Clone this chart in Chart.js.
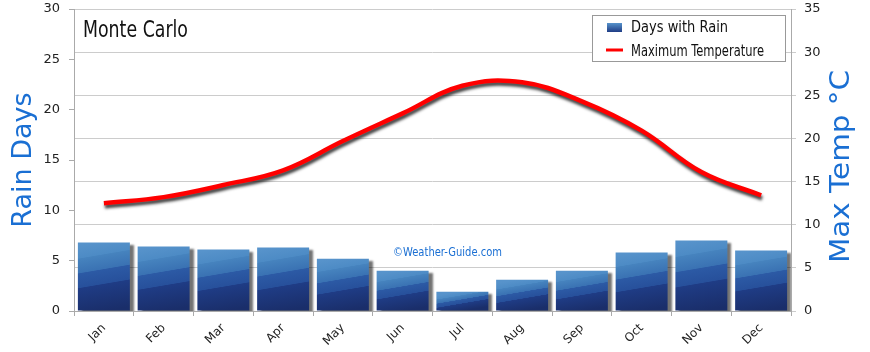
<!DOCTYPE html>
<html>
<head>
<meta charset="utf-8">
<script src="https://cdn.jsdelivr.net/npm/chart.js@4.4.1/dist/chart.umd.min.js"></script>
<style>
  html, body { margin: 0; padding: 0; background: #fff; }
  #wrap { width: 870px; height: 352px; position: relative; }
</style>
</head>
<body>
<div id="wrap"><canvas id="chart"></canvas></div>
<script>
const months = ["Jan", "Feb", "Mar", "Apr", "May", "Jun", "Jul", "Aug", "Sep", "Oct", "Nov", "Dec"];
const rainDays = [6.8, 6.4, 6.1, 6.3, 5.2, 4.0, 1.9, 3.1, 4.0, 5.8, 7.0, 6.0];
const maxTemp = [12.5, 13.2, 14.6, 16.3, 19.7, 22.9, 26.1, 26.5, 24.3, 20.9, 16.1, 13.4];
const rainTicks = [0, 5, 10, 15, 20, 25, 30];
const tempTicks = [0, 5, 10, 15, 20, 25, 30, 35];

const cityName = "Monte Carlo";
const watermark = "\u00A9Weather-Guide.com";
const leftTitle = "Rain Days";
const rightTitle = "Max Temp \u00B0C";

const BLUE_TEXT = "#1a6fd3";
const FONT = '"DejaVu Sans", sans-serif';

// draw text squeezed (or stretched) sideways to a given width
function fitText(ctx, text, x, y, width) {
  const w = ctx.measureText(text).width;
  ctx.save();
  ctx.translate(x, y);
  ctx.scale(width / w, 1);
  ctx.fillText(text, 0, 0);
  ctx.restore();
}

// layered blue fill, slanted like the original bars
function barFill(context) {
  const chart = context.chart;
  const { ctx, chartArea, scales } = chart;
  if (!chartArea || !scales.y) return "#2c5aa5";
  const top = scales.y.getPixelForValue(context.raw);
  const bottom = scales.y.getPixelForValue(0);
  const cx = scales.x.getPixelForValue(context.dataIndex);
  const h = Math.max(bottom - top, 1);
  const g = ctx.createLinearGradient(cx, bottom, cx - 0.17 * h, top);
  g.addColorStop(0, "#1a2e6a");
  g.addColorStop(0.38, "#1f3c85");
  g.addColorStop(0.39, "#27509b");
  g.addColorStop(0.59, "#2c5aa5");
  g.addColorStop(0.60, "#3a72b3");
  g.addColorStop(0.80, "#4683be");
  g.addColorStop(0.81, "#4d8bc5");
  g.addColorStop(1, "#5793cb");
  return g;
}

const shadowPlugin = {
  id: "shadows",
  beforeDatasetDraw(chart, args) {
    const ctx = chart.ctx;
    ctx.save();
    if (args.meta.type === "bar") {
      ctx.shadowColor = "rgba(0,0,0,0.55)";
      ctx.shadowOffsetX = 4;
      ctx.shadowOffsetY = 2;
      ctx.shadowBlur = 2;
    } else {
      ctx.shadowColor = "rgba(0,0,0,0.75)";
      ctx.shadowOffsetX = 1;
      ctx.shadowOffsetY = 3;
      ctx.shadowBlur = 3;
    }
  },
  afterDatasetDraw(chart) {
    chart.ctx.restore();
  }
};

const decorPlugin = {
  id: "decor",
  beforeDatasetsDraw(chart) {
    const ctx = chart.ctx;
    ctx.save();
    ctx.font = "13px " + FONT;
    ctx.fillStyle = BLUE_TEXT;
    ctx.textBaseline = "alphabetic";
    fitText(ctx, watermark, 393, 256, 109);
    ctx.restore();
  },
  afterDraw(chart) {
    const ctx = chart.ctx;
    ctx.save();

    // city name
    ctx.font = "23px " + FONT;
    ctx.fillStyle = "#111";
    ctx.textBaseline = "alphabetic";
    fitText(ctx, cityName, 83, 37, 105);

    // right axis title, reading bottom to top
    ctx.save();
    ctx.translate(849, 263);
    ctx.rotate(-Math.PI / 2);
    ctx.font = "27px " + FONT;
    ctx.fillStyle = BLUE_TEXT;
    ctx.textBaseline = "alphabetic";
    fitText(ctx, rightTitle, 0, 0, 193);
    ctx.restore();

    // legend box
    const ds = chart.data.datasets;
    ctx.fillStyle = "#fff";
    ctx.fillRect(592, 15, 193, 46);
    ctx.strokeStyle = "#999";
    ctx.lineWidth = 1;
    ctx.strokeRect(592.5, 15.5, 193, 46);

    const g = ctx.createLinearGradient(0, 23, 0, 32);
    g.addColorStop(0, "#5793cb");
    g.addColorStop(1, "#1f3c85");
    ctx.fillStyle = g;
    ctx.fillRect(607, 23, 15, 9);

    ctx.strokeStyle = "#ff0000";
    ctx.lineWidth = 3;
    ctx.beginPath();
    ctx.moveTo(606, 50);
    ctx.lineTo(623, 50);
    ctx.stroke();

    ctx.font = "15px " + FONT;
    ctx.fillStyle = "#111";
    ctx.textBaseline = "alphabetic";
    fitText(ctx, ds[0].label, 631, 32, 97);
    fitText(ctx, ds[1].label, 631, 56, 133);

    ctx.restore();
  }
};

// fixed axis sizes so the plot area sits where the original's does
function fixVertical(width) {
  return scale => {
    scale.width = width;
    scale.paddingTop = 0;
    scale.paddingBottom = 0;
  };
}

const ctx = document.getElementById("chart").getContext("2d");

new Chart(ctx, {
  data: {
    labels: months,
    datasets: [
      {
        type: "bar",
        label: "Days with Rain",
        data: rainDays,
        yAxisID: "y",
        backgroundColor: barFill,
        borderWidth: 0,
        barPercentage: 0.87,
        categoryPercentage: 1,
        order: 1
      },
      {
        type: "line",
        label: "Maximum Temperature",
        data: maxTemp,
        yAxisID: "y1",
        borderColor: "#ff0000",
        borderWidth: 4.5,
        pointRadius: 0,
        tension: 0.4,
        fill: false,
        order: 0
      }
    ]
  },
  options: {
    responsive: true,
    maintainAspectRatio: false,
    animation: false,
    layout: { padding: { top: 9, left: 0, right: 0, bottom: 0 } },
    plugins: {
      legend: { display: false },
      tooltip: { enabled: false }
    },
    scales: {
      x: {
        offset: true,
        grid: {
          display: true,
          offset: true,
          drawOnChartArea: false,
          tickLength: 5,
          color: "#aaa"
        },
        border: { color: "#aaa" },
        ticks: {
          minRotation: 45,
          maxRotation: 45,
          padding: 5,
          color: "#222",
          font: { family: "DejaVu Sans", size: 12 }
        },
        afterFit: scale => {
          scale.height = 41;
          scale.paddingLeft = 0;
          scale.paddingRight = 0;
        }
      },
      y: {
        position: "left",
        min: rainTicks[0],
        max: rainTicks[rainTicks.length - 1],
        afterBuildTicks: scale => { scale.ticks = rainTicks.map(v => ({ value: v })); },
        grid: { drawOnChartArea: false, tickLength: 5, color: "#aaa" },
        border: { color: "#aaa" },
        ticks: {
          padding: 9,
          color: "#222",
          font: { family: "DejaVu Sans", size: 13 }
        },
        title: {
          display: true,
          text: leftTitle,
          color: BLUE_TEXT,
          font: { family: "DejaVu Sans", size: 27 },
          padding: { top: 8, bottom: 0 }
        },
        afterFit: fixVertical(74)
      },
      y1: {
        position: "right",
        min: tempTicks[0],
        max: tempTicks[tempTicks.length - 1],
        afterBuildTicks: scale => { scale.ticks = tempTicks.map(v => ({ value: v })); },
        grid: { drawOnChartArea: true, tickLength: 5, color: "#cccccc" },
        border: { color: "#aaa" },
        ticks: {
          padding: 8,
          color: "#222",
          font: { family: "DejaVu Sans", size: 13 }
        },
        afterFit: fixVertical(79)
      }
    }
  },
  plugins: [shadowPlugin, decorPlugin]
});
</script>
</body>
</html>
